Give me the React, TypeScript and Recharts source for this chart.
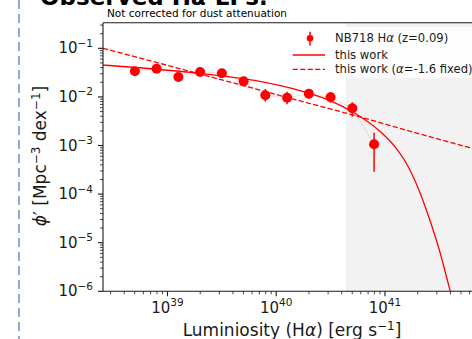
import React from 'react';
import {
  ComposedChart,
  XAxis,
  YAxis,
  Line,
  Scatter,
  ErrorBar,
  ReferenceArea,
  ReferenceLine,
} from 'recharts';

// NB718 H-alpha luminosity bins (log10 L [erg/s]) and measured number densities
const binLogL = [38.7, 38.9, 39.1, 39.3, 39.5, 39.7, 39.9, 40.1, 40.3, 40.5, 40.7, 40.9];
const phiObs = [0.0337, 0.038, 0.0256, 0.0325, 0.0306, 0.0209, 0.0108, 0.0096, 0.0116, 0.0098, 0.00582, 0.00106];
const phiLow = [0.028, 0.0316, 0.0213, 0.027, 0.0255, 0.0174, 0.008, 0.0071, 0.0092, 0.0076, 0.00392, 0.000289];
const phiHigh = [0.04, 0.0455, 0.0307, 0.039, 0.0367, 0.0251, 0.0146, 0.0128, 0.0146, 0.0126, 0.00774, 0.00183];

// Best-fit Schechter curve ("this work"), log10 L vs log10 phi
const fitLogL = [38.407, 38.8, 39.3, 39.8, 40.25, 40.5, 40.72, 40.95, 41.1, 41.2, 41.3, 41.4, 41.5, 41.6, 41.65];
const fitLogPhi = [-1.344, -1.41, -1.515, -1.66, -1.89, -2.08, -2.33, -2.7, -3.05, -3.38, -3.85, -4.45, -5.15, -6.0, -6.45];

// Fit with faint-end slope fixed at alpha = -1.6
const fixedLogL = [38.407, 39.3, 40.25, 40.75, 41.3, 41.97];
const fixedLogPhi = [-1.0, -1.53, -2.1, -2.4, -2.75, -3.16];

// Completeness limit: bins brighter than this are shaded
const shadeLogL = 40.641;

const xRangeLog = [38.407, 41.966];
const yRangeLog = [-6, -0.473];

const X_MIN = 10 ** xRangeLog[0];
const X_MAX = 10 ** xRangeLog[1];
const Y_MIN = 10 ** yRangeLog[0];
const Y_MAX = 10 ** yRangeLog[1];

const RED = '#ff0000';
const INK = '#1a1a1a';
const FONT = 'DejaVu Sans';

const observed = binLogL.map((lg, i) => ({
  L: 10 ** lg,
  phi: phiObs[i],
  err: [phiObs[i] - phiLow[i], phiHigh[i] - phiObs[i]],
}));
const fitCurve = fitLogL.map((lg, i) => ({ L: 10 ** lg, phi: 10 ** fitLogPhi[i] }));
const fixedCurve = fixedLogL.map((lg, i) => ({ L: 10 ** lg, phi: 10 ** fixedLogPhi[i] }));

function logTicks(min: number, max: number) {
  const out: number[] = [];
  const lo = Math.floor(Math.log10(min));
  const hi = Math.ceil(Math.log10(max));
  for (let e = lo; e <= hi; e++) {
    for (let k = 1; k <= 9; k++) {
      const v = k * 10 ** e;
      if (v >= min * 0.9999 && v <= max * 1.0001) out.push(v);
    }
  }
  return out;
}

const xTicks = logTicks(X_MIN, X_MAX);
const yTicks = logTicks(Y_MIN, Y_MAX);

function decade(v: number) {
  const e = Math.log10(v);
  return Math.abs(e - Math.round(e)) < 1e-6 ? Math.round(e) : null;
}

const XTick = (props: any) => {
  const { x, y, payload } = props;
  const e = decade(payload.value);
  const major = e !== null;
  return (
    <g>
      <line x1={x} x2={x} y1={y} y2={y + (major ? 5 : 3)} stroke={INK} strokeWidth={major ? 1.1 : 0.8} />
      {major && (
        <text x={x} y={y + 21.5} textAnchor="middle" fontFamily={FONT} fontSize={15} fill={INK}>
          10
          <tspan dy={-7} fontSize={10.5}>{String(e)}</tspan>
        </text>
      )}
    </g>
  );
};

const YTick = (props: any) => {
  const { x, y, payload } = props;
  const e = decade(payload.value);
  const major = e !== null;
  return (
    <g>
      <line x1={x} x2={x - (major ? 5 : 3)} y1={y} y2={y} stroke={INK} strokeWidth={major ? 1.1 : 0.8} />
      {major && (
        <text x={x - 10} y={y + 5} textAnchor="end" fontFamily={FONT} fontSize={15} fill={INK}>
          10
          <tspan dy={-6.5} fontSize={10.5}>{'\u2212' + String(Math.abs(e as number))}</tspan>
        </text>
      )}
    </g>
  );
};

const Dot = (p: any) => <circle cx={p.cx} cy={p.cy} r={5} fill={RED} />;

export default function App() {
  return (
    <div
      style={{
        position: 'fixed',
        left: 0,
        top: 0,
        width: 472,
        height: 339,
        overflow: 'hidden',
        background: '#ffffff',
      }}
    >
      <div style={{ position: 'absolute', left: 0, top: 0 }}>
        <ComposedChart
          width={520}
          height={339}
          margin={{ top: 22.7, right: 30, bottom: 17.7, left: 43 }}
        >
          <XAxis
            dataKey="L"
            type="number"
            scale="log"
            domain={[X_MIN, X_MAX]}
            allowDataOverflow
            ticks={xTicks}
            interval={0}
            tick={<XTick />}
            tickLine={false}
            tickSize={0}
            tickMargin={0}
            height={30}
            axisLine={{ stroke: INK, strokeWidth: 1.1 }}
          />
          <YAxis
            type="number"
            scale="log"
            domain={[Y_MIN, Y_MAX]}
            allowDataOverflow
            ticks={yTicks}
            interval={0}
            tick={<YTick />}
            tickLine={false}
            tickSize={0}
            tickMargin={0}
            width={60}
            axisLine={{ stroke: INK, strokeWidth: 1.1 }}
          />
          <ReferenceArea
            x1={10 ** shadeLogL}
            x2={X_MAX}
            y1={Y_MIN}
            y2={Y_MAX}
            fill="#f2f2f2"
            fillOpacity={1}
            stroke="none"
          />
          <ReferenceLine y={Y_MAX} stroke={INK} strokeWidth={1.1} />
          <Line
            data={observed}
            dataKey="phi"
            type="linear"
            stroke={RED}
            strokeOpacity={0.15}
            strokeWidth={1}
            dot={false}
            isAnimationActive={false}
          />
          <Line
            data={fitCurve}
            dataKey="phi"
            type="monotone"
            stroke={RED}
            strokeWidth={1.3}
            dot={false}
            isAnimationActive={false}
          />
          <Line
            data={fixedCurve}
            dataKey="phi"
            type="monotone"
            stroke={RED}
            strokeWidth={1.3}
            strokeDasharray="5.2 2.3"
            dot={false}
            isAnimationActive={false}
          />
          <Scatter data={observed} dataKey="phi" fill={RED} shape={Dot} isAnimationActive={false}>
            <ErrorBar dataKey="err" direction="y" width={0} stroke={RED} strokeWidth={1.5} />
          </Scatter>
        </ComposedChart>
      </div>
      <svg
        width={472}
        height={339}
        style={{ position: 'absolute', left: 0, top: 0, pointerEvents: 'none' }}
        fontFamily={FONT}
      >
        <line x1={19} x2={19} y1={0} y2={339} stroke="#6a90d6" strokeWidth={1.5} strokeDasharray="9 5" />
        <text x={40} y={4.5} fontSize={23} fontWeight="bold" fill="#000">
          Observed H<tspan fontStyle="italic">α</tspan> LFs:
        </text>
        <text x={107} y={16.5} fontSize={10.5} fill="#000">
          Not corrected for dust attenuation
        </text>
        <text
          x={46}
          y={156}
          transform="rotate(-90 46 156)"
          textAnchor="middle"
          fontSize={17}
          fill={INK}
        >
          <tspan fontStyle="italic">ϕ</tspan>′ [Mpc
          <tspan dy={-6.5} fontSize={12}>−3</tspan>
          <tspan dy={6.5}> dex</tspan>
          <tspan dy={-6.5} fontSize={12}>−1</tspan>
          <tspan dy={6.5}>]</tspan>
        </text>
        <text x={292} y={336} textAnchor="middle" fontSize={17} fill={INK}>
          Luminiosity (H<tspan fontStyle="italic">α</tspan>) [erg s
          <tspan dy={-6.5} fontSize={12}>−1</tspan>
          <tspan dy={6.5}>]</tspan>
        </text>
        {/* legend */}
        <rect x={287} y={27} width={200} height={51} fill="#ffffff" fillOpacity={0.8} />
        <line x1={310} x2={310} y1={31.7} y2={45.5} stroke={RED} strokeWidth={1.5} />
        <circle cx={310} cy={38.3} r={3.3} fill={RED} />
        <text x={335} y={42.3} fontSize={11.6} fill={INK}>
          NB718 H<tspan fontStyle="italic">α</tspan> (z=0.09)
        </text>
        <line x1={292.7} x2={325} y1={55} y2={55} stroke={RED} strokeWidth={1.3} />
        <text x={335} y={59} fontSize={11.6} fill={INK}>
          this work
        </text>
        <line x1={292.7} x2={325} y1={69.3} y2={69.3} stroke={RED} strokeWidth={1.3} strokeDasharray="5.2 2.3" />
        <text x={335} y={73.3} fontSize={11.6} fill={INK}>
          this work (<tspan fontStyle="italic">α</tspan>=-1.6 fixed)
        </text>
      </svg>
    </div>
  );
}
